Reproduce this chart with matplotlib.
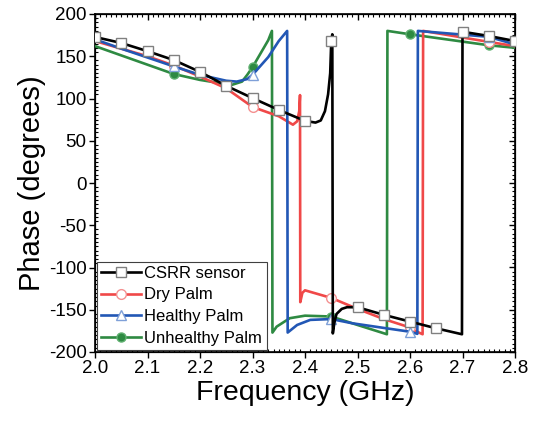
import matplotlib
matplotlib.use("Agg")
import matplotlib.pyplot as plt
from matplotlib.ticker import MultipleLocator
import numpy as np

plt.rcParams['font.family'] = ['Liberation Sans', 'DejaVu Sans']
plt.rcParams['axes.unicode_minus'] = False

# ---------------- data ----------------
csrr_f = [2.00, 2.05, 2.10, 2.15, 2.20, 2.25, 2.30, 2.35, 2.40, 2.42, 2.43, 2.438, 2.444, 2.448,
          2.45, 2.452, 2.453, 2.456, 2.46, 2.47, 2.48, 2.50, 2.55, 2.60, 2.65, 2.699, 2.70, 2.75, 2.80]
csrr_p = [172.8, 165.7, 156.0, 145.5, 131.5, 115.0, 100.5, 86.5, 73.5, 71.5, 74.0, 85.0, 105.0, 130.0,
          168.0, 176.0, -178.0, -165.0, -155.0, -149.0, -147.0, -147.0, -156.0, -164.0, -172.0, -179.0,
          179.0, 174.0, 168.0]
csrr_marks = [2.00, 2.05, 2.10, 2.15, 2.20, 2.25, 2.30, 2.35, 2.40, 2.45, 2.50, 2.55, 2.60, 2.65,
              2.70, 2.75, 2.80]

dry_f = [2.00, 2.05, 2.10, 2.15, 2.20, 2.25, 2.30, 2.35, 2.377, 2.385, 2.389, 2.3905, 2.391, 2.395,
         2.40, 2.45, 2.50, 2.55, 2.60, 2.61, 2.624, 2.625, 2.75, 2.80]
dry_p = [168.0, 159.0, 150.0, 139.0, 126.0, 112.0, 90.0, 79.0, 69.0, 73.0, 85.0, 104.0, -141.0, -130.0,
         -127.0, -136.0, -149.0, -161.0, -171.0, -175.0, -179.0, 180.0, 167.0, 162.0]
dry_marks = [2.15, 2.30, 2.45, 2.60, 2.75]

healthy_f = [2.00, 2.05, 2.10, 2.15, 2.20, 2.25, 2.27, 2.29, 2.30, 2.33, 2.35, 2.366, 2.367, 2.385,
             2.41, 2.45, 2.49, 2.55, 2.60, 2.614, 2.615, 2.75, 2.80]
healthy_p = [170.0, 159.0, 148.5, 138.0, 128.0, 121.0, 120.0, 123.0, 128.0, 149.0, 168.0, 180.0, -177.0,
             -168.0, -162.0, -161.0, -166.0, -171.5, -176.0, -178.5, 180.0, 173.0, 164.0]
healthy_marks = [2.15, 2.30, 2.45, 2.60, 2.75]

unhealthy_f = [2.00, 2.05, 2.10, 2.15, 2.20, 2.26, 2.28, 2.29, 2.30, 2.315, 2.33, 2.337, 2.338, 2.346,
               2.371, 2.40, 2.45, 2.50, 2.556, 2.557, 2.60, 2.75, 2.80]
unhealthy_p = [162.0, 151.0, 140.0, 129.0, 122.0, 116.0, 120.0, 128.0, 137.0, 153.0, 169.0, 180.0, -177.0,
               -170.0, -160.0, -157.0, -158.0, -168.0, -179.0, 180.0, 176.0, 163.0, 160.0]
unhealthy_marks = [2.15, 2.30, 2.45, 2.60, 2.75]

labels = ["CSRR sensor", "Dry Palm", "Healthy Palm", "Unhealthy Palm"]
x_ticks = [2.0, 2.1, 2.2, 2.3, 2.4, 2.5, 2.6, 2.7, 2.8]
y_ticks = [-200, -150, -100, -50, 0, 50, 100, 150, 200]

# ---------------- figure ----------------
fig = plt.figure(figsize=(5.37, 4.21), dpi=100)
ax = fig.add_axes([95 / 537, 1 - 352 / 421, 420 / 537, 338 / 421])


def mark_idx(f, marks):
    idx = []
    for m in marks:
        cands = [i for i, v in enumerate(f) if abs(v - m) < 1e-9]
        if cands:
            idx.append(cands[-1])
    return idx


lw = 1.9
ax.plot(csrr_f, csrr_p, color='black', lw=lw, marker='s', markersize=6.5,
        markerfacecolor='white', markeredgecolor='#808080', markeredgewidth=1.0,
        markevery=mark_idx(csrr_f, csrr_marks), label=labels[0], zorder=6)
ax.plot(dry_f, dry_p, color='#F04848', lw=lw, marker='o', markersize=7,
        markerfacecolor='white', markeredgecolor='#F49090', markeredgewidth=1.0,
        markevery=mark_idx(dry_f, dry_marks), label=labels[1], zorder=4)
ax.plot(healthy_f, healthy_p, color='#2257B5', lw=lw, marker='^', markersize=7.5,
        markerfacecolor='white', markeredgecolor='#7FA0D8', markeredgewidth=1.0,
        markevery=mark_idx(healthy_f, healthy_marks), label=labels[2], zorder=5)
ax.plot(unhealthy_f, unhealthy_p, color='#2E8A42', lw=lw, marker='o', markersize=6.5,
        markerfacecolor='#2E8A42', markeredgecolor='#5FB070', markeredgewidth=1.0,
        markevery=mark_idx(unhealthy_f, unhealthy_marks), label=labels[3], zorder=3)

ax.set_xlim(2.0, 2.8)
ax.set_ylim(-200, 200)
ax.set_xticks(x_ticks)
ax.set_yticks(y_ticks)
ax.set_xticklabels([f"{v:.1f}" for v in x_ticks])
ax.set_yticklabels([str(v) for v in y_ticks])
ax.xaxis.set_minor_locator(MultipleLocator(0.01))
ax.yaxis.set_minor_locator(MultipleLocator(5))
ax.tick_params(which='major', direction='out', length=4, width=1.0, labelsize=13.5, pad=2)
ax.tick_params(which='minor', direction='in', length=2.5, width=0.8)
for s in ax.spines.values():
    s.set_linewidth(1.2)

# top / right ticks (inside)
axt = ax.twiny()
axt.set_xlim(ax.get_xlim())
axt.set_xticks(x_ticks)
axt.xaxis.set_minor_locator(MultipleLocator(0.01))
axt.tick_params(which='major', direction='in', length=4.5, width=1.0, labeltop=False)
axt.tick_params(which='minor', direction='in', length=2.5, width=0.8)
axr = ax.twinx()
axr.set_ylim(ax.get_ylim())
axr.set_yticks(y_ticks)
axr.yaxis.set_minor_locator(MultipleLocator(5))
axr.tick_params(which='major', direction='in', length=4.5, width=1.0, labelright=False)
axr.tick_params(which='minor', direction='in', length=2.5, width=0.8)

ax.set_xlabel("Frequency (GHz)", fontsize=20.5, labelpad=2)
ax.set_ylabel("Phase (degrees)", fontsize=21, labelpad=2)

leg = ax.legend(loc='lower left', fontsize=12, frameon=True, fancybox=False,
                edgecolor='#404040', framealpha=1, borderaxespad=0.12, borderpad=0.25,
                labelspacing=0.4, handlelength=2.4, handletextpad=0.2)
leg.get_frame().set_linewidth(0.8)
leg.set_zorder(10)
ax.set_zorder(axt.get_zorder() + 1)
ax.patch.set_visible(False)

fig.savefig("out.png", dpi=100)
